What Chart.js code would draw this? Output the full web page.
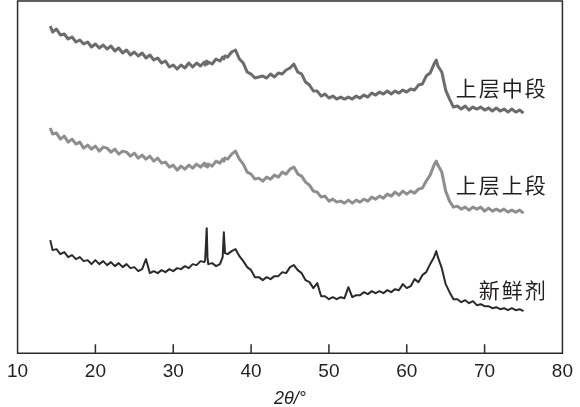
<!DOCTYPE html>
<html>
<head>
<meta charset="utf-8">
<script src="https://cdn.jsdelivr.net/npm/chart.js@4/dist/chart.umd.min.js"></script>
<style>
  body { margin: 0; background: #fff; }
  #wrap { width: 580px; height: 407px; position: relative; }
</style>
</head>
<body>
<div id="wrap"><canvas id="xrdChart"></canvas></div>
<script>
// 2θ positions (deg)
const twoTheta = [
  14.2, 14.5, 15, 15.5, 16, 16.5, 17, 17.5, 18, 18.5,
  19, 19.5, 20, 20.5, 21, 21.5, 22, 22.5, 23, 23.5,
  24, 24.5, 25, 25.5, 26, 26.5, 27, 27.5, 28, 28.5,
  29, 29.5, 30, 30.5, 31, 31.5, 32, 32.5, 33, 33.5,
  34, 34.1, 34.3, 34.4, 34.5, 35, 35.5, 36, 36.35, 36.5,
  36.65, 37, 37.5, 38, 38.5, 39, 39.5, 40, 40.5, 41,
  41.5, 42, 42.5, 43, 43.5, 44, 44.5, 45, 45.5, 46,
  46.5, 47, 47.5, 48, 48.5, 49, 49.5, 50, 50.5, 51,
  51.5, 52, 52.5, 53, 53.5, 54, 54.5, 55, 55.5, 56,
  56.5, 57, 57.5, 58, 58.5, 59, 59.5, 60, 60.5, 61,
  61.5, 62, 62.5, 63, 63.5, 63.8, 64, 64.5, 65, 65.5, 66,
  66.5, 67, 67.5, 68, 68.5, 69, 69.5, 70, 70.5, 71,
  71.5, 72, 72.5, 73, 73.5, 74, 74.5, 75
];

// intensities (a.u., curves are offset)
const upperMiddle = [ // 上层中段
  327, 321, 324, 318, 319, 314, 316, 311, 313, 309,
  311, 306, 309, 305, 308, 304, 307, 302, 305, 300,
  303, 298, 301, 297, 300, 295, 298, 293, 295, 290,
  292, 286, 288, 284, 288, 285, 290, 286, 290, 287,
  291, 288, 292, 289, 291, 289, 294, 292, 296, 294,
  297, 296, 301, 303, 294, 290, 281, 279, 275, 276,
  277, 275, 279, 276, 280, 279, 283, 285, 289, 281,
  279, 271, 268, 262, 262, 257, 259, 255, 257, 254,
  256, 254, 256, 254, 257, 255, 258, 256, 260, 258,
  261, 259, 262, 259, 262, 260, 263, 261, 264, 263,
  268, 269, 277, 280, 289, 293, 287, 281, 263, 254, 246,
  247, 244, 247, 243, 246, 244, 246, 243, 245, 242,
  245, 242, 244, 241, 244, 241, 243, 240
];
const upperUpper = [ // 上层上段
  225, 219, 220, 214, 217, 211, 214, 209, 211, 205,
  208, 204, 207, 202, 206, 205, 201, 204, 199, 202,
  201, 197, 200, 195, 198, 194, 197, 192, 195, 190,
  191, 186, 188, 183, 187, 184, 188, 185, 189, 186,
  190, 187, 189, 186, 189, 187, 192, 190, 194, 192,
  195, 194, 199, 202, 194, 189, 181, 179, 174, 175,
  172, 176, 174, 178, 176, 181, 179, 184, 186, 179,
  177, 171, 168, 162, 161, 156, 157, 152, 154, 151,
  152, 150, 153, 150, 153, 151, 154, 152, 156, 154,
  157, 155, 159, 157, 161, 158, 162, 159, 162, 160,
  164, 165, 172, 178, 188, 192, 188, 181, 162, 152, 146,
  147, 144, 146, 143, 146, 144, 146, 142, 145, 142,
  144, 142, 144, 141, 143, 141, 143, 140
];
const fresh = [ // 新鲜剂
  113, 103, 104, 99, 101, 96, 98, 94, 96, 92,
  93, 89, 93, 89, 92, 88, 91, 87, 90, 86,
  89, 85, 86, 82, 84, 94, 80, 82, 80, 83,
  81, 84, 82, 85, 84, 87, 85, 89, 88, 92,
  91, 93, 125, 96, 89, 90, 87, 89, 96, 121,
  100, 99, 102, 104, 97, 92, 86, 83, 76, 76,
  73, 76, 74, 77, 77, 81, 80, 86, 88, 83,
  80, 73, 71, 65, 70, 57, 57, 54, 56, 54,
  56, 55, 66, 56, 58, 58, 61, 59, 62, 60,
  62, 60, 63, 61, 64, 63, 69, 65, 67, 74,
  71, 78, 81, 89, 96, 102, 96, 85, 69, 61, 54,
  54, 51, 53, 50, 52, 48, 49, 47, 47, 45,
  46, 44, 45, 43, 45, 43, 44, 42
];

const xTicks = [10, 20, 30, 40, 50, 60, 70, 80];

function pts(arr) {
  return twoTheta.map((t, i) => ({ x: t, y: arr[i] }));
}

// box frame, inward ticks and the curve names
const frameAndTags = {
  id: 'frameAndTags',
  afterDraw(chart) {
    const { ctx, chartArea: a, scales: { x, y } } = chart;
    ctx.save();
    ctx.strokeStyle = '#2e2a2b';
    ctx.lineWidth = 1.5;
    ctx.setLineDash([]);
    ctx.beginPath();
    ctx.moveTo(a.left, a.top);
    ctx.lineTo(a.right, a.top);
    ctx.lineTo(a.right, a.bottom);
    ctx.lineTo(a.left, a.bottom);
    ctx.closePath();
    xTicks.forEach(v => {
      const px = x.getPixelForValue(v);
      ctx.moveTo(px, a.bottom);
      ctx.lineTo(px, a.bottom - 9);
    });
    ctx.stroke();

    ctx.font = '21px "Noto Sans CJK SC"';
    ctx.fillStyle = '#231f20';
    ctx.textAlign = 'right';
    ctx.textBaseline = 'middle';
    ctx.letterSpacing = '2px';
    chart.data.datasets.forEach(ds => {
      ctx.fillText(ds.label, x.getPixelForValue(ds.tagAt[0]) + 2, y.getPixelForValue(ds.tagAt[1]));
    });
    ctx.restore();
  }
};

new Chart(document.getElementById('xrdChart'), {
  type: 'line',
  data: {
    datasets: [
      { label: '上层中段', data: pts(upperMiddle), borderColor: '#6c6c6c', borderWidth: 3, tagAt: [77.85, 265] },
      { label: '上层上段', data: pts(upperUpper), borderColor: '#8e8e8e', borderWidth: 3, tagAt: [77.85, 168] },
      { label: '新鲜剂', data: pts(fresh), borderColor: '#2a2a2a', borderWidth: 2, tagAt: [77.85, 63] }
    ]
  },
  options: {
    responsive: true,
    maintainAspectRatio: false,
    animation: false,
    devicePixelRatio: 1,
    layout: { padding: { left: 10, right: 12, top: 1, bottom: -1 } },
    elements: { point: { radius: 0 }, line: { tension: 0, borderJoinStyle: 'round' } },
    plugins: { legend: { display: false }, tooltip: { enabled: false } },
    scales: {
      x: {
        type: 'linear',
        min: 10,
        max: 80,
        afterBuildTicks: s => { s.ticks = xTicks.map(v => ({ value: v })); },
        grid: { display: false, drawTicks: false },
        border: { display: false },
        ticks: {
          autoSkip: false,
          maxRotation: 0,
          padding: 7,
          color: '#231f20',
          font: { family: '"Liberation Sans", Arial, sans-serif', size: 19 }
        },
        title: {
          display: true,
          text: '2θ/°',
          color: '#231f20',
          padding: { top: 0, bottom: 0 },
          font: { family: '"Liberation Sans", Arial, sans-serif', size: 18, style: 'italic', lineHeight: 1 }
        }
      },
      y: {
        display: false,
        min: 0,
        max: 352
      }
    }
  },
  plugins: [frameAndTags]
});
</script>
</body>
</html>
